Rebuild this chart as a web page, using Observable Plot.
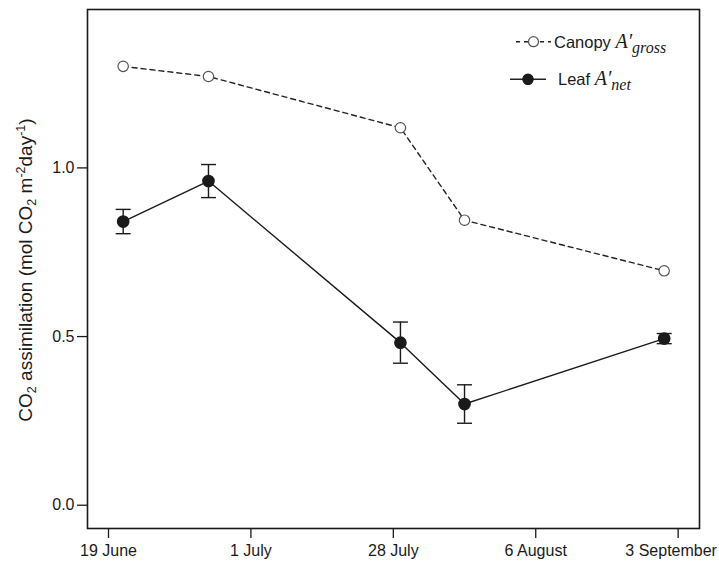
<!DOCTYPE html>
<html>
<head>
<meta charset="utf-8">
<script src="https://cdn.jsdelivr.net/npm/d3@7"></script>
<script src="https://cdn.jsdelivr.net/npm/@observablehq/plot@0.6"></script>
<style>
  html, body { margin: 0; padding: 0; background: #fff; }
  #chart { width: 719px; height: 565px; }
</style>
</head>
<body>
<div id="chart"></div>
<script>
// ---- data ----
const tickLabels = ["19 June", "1 July", "28 July", "6 August", "3 September"];
const tickPositions = [1, 2, 3, 4, 5];
const samplePositions = [1.103, 1.702, 3.05, 3.5, 4.902];
const canopyGross = [1.301, 1.271, 1.119, 0.845, 0.695];
const leafNet = [0.841, 0.961, 0.482, 0.300, 0.494];
const leafErr = [0.036, 0.049, 0.061, 0.057, 0.015];
const yTicks = [0, 0.5, 1.0];
const seriesNames = ["Canopy", "Leaf"];

const canopy = samplePositions.map((x, i) => ({x, y: canopyGross[i]}));
const leaf = samplePositions.map((x, i) => ({x, y: leafNet[i], lo: leafNet[i] - leafErr[i], hi: leafNet[i] + leafErr[i]}));

const capSymbol = {
  draw(context, size) {
    const r = Math.sqrt(size / Math.PI);
    context.moveTo(-r, 0);
    context.lineTo(r, 0);
  }
};

const ink = "#1a1a1a";
const fmtTick = (d) => tickLabels[d - 1];

const plot = Plot.plot({
  width: 719,
  height: 565,
  marginLeft: 87,
  marginRight: 20,
  marginTop: 9,
  marginBottom: 37,
  style: {fontFamily: "'Liberation Sans', Arial, sans-serif", fontSize: "16px", color: ink, background: "white"},
  x: {domain: [0.8525, 5.15], axis: null},
  y: {domain: [-0.069, 1.4696], axis: null},
  marks: [
    Plot.axisX({ticks: tickPositions, tickFormat: null, text: null, tickSize: 10, stroke: ink, strokeWidth: 1.3, label: null}),
    Plot.axisX({ticks: tickPositions.slice(0, 4), tickFormat: fmtTick, tickSize: 0, tickPadding: 16, fontSize: 16, label: null}),
    Plot.axisX({ticks: tickPositions.slice(4), tickFormat: fmtTick, tickSize: 0, tickPadding: 16, fontSize: 16, dx: -7, label: null}),
    Plot.axisY({ticks: yTicks, tickFormat: d3.format(".1f"), tickSize: 10, tickPadding: 3, stroke: ink, strokeWidth: 1.3, fontSize: 16, label: null}),
    Plot.frame({stroke: ink, strokeWidth: 1.6}),
    // canopy dashed line with open circles
    Plot.line(canopy, {x: "x", y: "y", stroke: "#222", strokeWidth: 1.4, strokeDasharray: "5,4"}),
    Plot.dot(canopy, {x: "x", y: "y", r: 5.2, fill: "white", stroke: "#555", strokeWidth: 1.2}),
    // leaf solid line with error bars
    Plot.line(leaf, {x: "x", y: "y", stroke: ink, strokeWidth: 1.4}),
    Plot.ruleX(leaf, {x: "x", y1: "lo", y2: "hi", stroke: ink, strokeWidth: 1.4}),
    Plot.dot(leaf, {x: "x", y: "lo", r: 7.5, symbol: capSymbol, stroke: ink, strokeWidth: 1.4}),
    Plot.dot(leaf, {x: "x", y: "hi", r: 7.5, symbol: capSymbol, stroke: ink, strokeWidth: 1.4}),
    Plot.dot(leaf, {x: "x", y: "y", r: 5.6, fill: ink, stroke: ink})
  ]
});

document.getElementById("chart").appendChild(plot);

const svg = d3.select(plot);

// y-axis title with sub/superscripts
const yt = svg.append("text")
  .attr("transform", "translate(32,270) rotate(-90)")
  .attr("text-anchor", "middle")
  .attr("font-family", "'Liberation Sans', Arial, sans-serif")
  .attr("font-size", 19)
  .attr("fill", ink);
yt.append("tspan").text("CO");
yt.append("tspan").attr("font-size", 12.5).attr("dy", 4).text("2");
yt.append("tspan").attr("dy", -4).text(" assimilation (mol CO");
yt.append("tspan").attr("font-size", 12.5).attr("dy", 4).text("2");
yt.append("tspan").attr("dy", -4).text(" m");
yt.append("tspan").attr("font-size", 12.5).attr("dy", -7).text("-2");
yt.append("tspan").attr("dy", 7).text("day");
yt.append("tspan").attr("font-size", 12.5).attr("dy", -7).text("-1");
yt.append("tspan").attr("dy", 7).text(")");

// legend
const lg = svg.append("g").attr("class", "legend");
const serif = "'Liberation Serif', 'DejaVu Serif', serif";
function legendRow(y, x0, x1, name, sub, dashed, filled, tx) {
  lg.append("line").attr("x1", x0).attr("x2", x1).attr("y1", y).attr("y2", y)
    .attr("stroke", "#222").attr("stroke-width", 1.4)
    .attr("stroke-dasharray", dashed ? "4,4" : null);
  lg.append("circle").attr("cx", (x0 + x1) / 2).attr("cy", y).attr("r", filled ? 5.2 : 5)
    .attr("fill", filled ? ink : "white").attr("stroke", filled ? ink : "#555").attr("stroke-width", 1.2);
  const t = lg.append("text").attr("x", tx).attr("y", y + 6).attr("text-anchor", "start")
    .attr("font-family", "'Liberation Sans', Arial, sans-serif").attr("font-size", 16.5).attr("fill", ink);
  t.append("tspan").text(name + " ");
  t.append("tspan").attr("font-family", serif).attr("font-style", "italic").attr("font-size", 20).text("A′");
  t.append("tspan").attr("font-family", serif).attr("font-style", "italic").attr("font-size", 16).attr("dy", 5).text(sub);
}
legendRow(41.7, 516, 551, seriesNames[0], "gross", true, false, 554);
legendRow(79.3, 510, 546, seriesNames[1], "net", false, true, 558);
</script>
</body>
</html>
